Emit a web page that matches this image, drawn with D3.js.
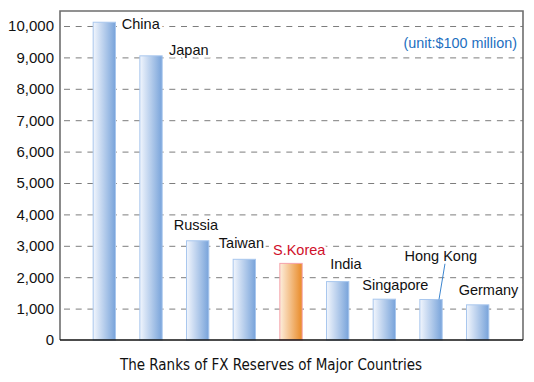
<!DOCTYPE html>
<html>
<head>
<meta charset="utf-8">
<script src="https://cdn.jsdelivr.net/npm/d3@7"></script>
<style>
  body { margin: 0; background: #fff; }
  svg { display: block; }
</style>
</head>
<body>
<div id="chart"></div>
<script>
// FX reserves, unit: $100 million
var countries = ["China", "Japan", "Russia", "Taiwan", "S.Korea", "India", "Singapore", "Hong Kong", "Germany"];
var reserves = [10120, 9050, 3160, 2570, 2440, 1860, 1300, 1290, 1120];
var yTicks = [0, 1000, 2000, 3000, 4000, 5000, 6000, 7000, 8000, 9000, 10000];
var highlight = "S.Korea";

// label placement relative to the bar's top-centre (dx to text start, dy to baseline)
var labelOffsets = [[17.5, 7], [18, -1], [-24, -11], [-25.5, -11], [-18, -8], [-7.5, -12.5], [-22, -9], [-26.5, -38], [-19, -9.5]];

var width = 534, height = 382;
var plot = { left: 60, right: 523, top: 11, bottom: 340 };
var sans = "'Liberation Sans', Arial, sans-serif";

var svg = d3.select("#chart").append("svg")
    .attr("width", width)
    .attr("height", height);

var defs = svg.append("defs");
function gradient(id, c0, c1) {
    var g = defs.append("linearGradient").attr("id", id)
        .attr("x1", "0%").attr("x2", "100%").attr("y1", "0%").attr("y2", "0%");
    g.append("stop").attr("offset", "0%").attr("stop-color", c0);
    g.append("stop").attr("offset", "100%").attr("stop-color", c1);
}
gradient("blueGrad", "#f2f6fd", "#78a3da");
gradient("orangeGrad", "#fdeedd", "#e98a26");

var x = d3.scaleBand()
    .domain(countries)
    .range([81, 501])
    .paddingInner(0.5)
    .paddingOuter(0.25);

var y = d3.scaleLinear()
    .domain([0, 10000])
    .range([plot.bottom, 26]);

// gridlines
svg.append("g")
    .attr("transform", "translate(" + plot.left + ",0)")
    .call(d3.axisLeft(y).tickValues(yTicks.slice(1)).tickSize(-(plot.right - plot.left - 4)).tickFormat(""))
    .call(function (g) {
        g.select(".domain").remove();
        g.selectAll("line")
            .attr("transform", "translate(4,0)")
            .attr("stroke", "#7d7d7d")
            .attr("stroke-dasharray", "6,5.7");
    });

// frame
svg.append("path")
    .attr("d", "M" + plot.left + "," + plot.bottom + "V" + plot.top + "H" + plot.right + "V" + plot.bottom)
    .attr("fill", "none")
    .attr("stroke", "#6e6e6e")
    .attr("stroke-width", 1.6);

// bars
svg.append("g")
    .selectAll("rect")
    .data(countries)
    .enter().append("rect")
    .attr("x", function (d) { return x(d) + 0.5; })
    .attr("y", function (d, i) { return y(reserves[i]); })
    .attr("width", x.bandwidth() - 1)
    .attr("height", function (d, i) { return y(0) - y(reserves[i]); })
    .attr("fill", function (d) { return d === highlight ? "url(#orangeGrad)" : "url(#blueGrad)"; })
    .attr("stroke", function (d) { return d === highlight ? "#f5a3ab" : "#a9c7ee"; })
    .attr("stroke-width", 1);

// bottom axis line
svg.append("line")
    .attr("x1", plot.left).attr("x2", plot.right)
    .attr("y1", plot.bottom).attr("y2", plot.bottom)
    .attr("stroke", "#111")
    .attr("stroke-width", 1.5);

// y axis labels
svg.append("g")
    .attr("transform", "translate(" + plot.left + ",0)")
    .call(d3.axisLeft(y).tickValues(yTicks).tickSize(0).tickPadding(6).tickFormat(d3.format(",")))
    .call(function (g) {
        g.select(".domain").remove();
        g.selectAll("text")
            .attr("font-family", sans)
            .attr("font-size", 15)
            .attr("fill", "#111");
    });

// Hong Kong leader line
var hk = countries.indexOf("Hong Kong");
svg.append("line")
    .attr("x1", x(countries[hk]) + x.bandwidth() / 2 + 14)
    .attr("y1", y(reserves[hk]) - 36)
    .attr("x2", x(countries[hk]) + x.bandwidth() / 2 + 8)
    .attr("y2", y(reserves[hk]))
    .attr("stroke", "#3d86cf")
    .attr("stroke-width", 1);

// country labels
svg.append("g")
    .selectAll("text")
    .data(countries)
    .enter().append("text")
    .attr("x", function (d, i) { return x(d) + x.bandwidth() / 2 + labelOffsets[i][0]; })
    .attr("y", function (d, i) { return y(reserves[i]) + labelOffsets[i][1]; })
    .attr("font-family", sans)
    .attr("font-size", 14.5)
    .attr("fill", function (d) { return d === highlight ? "#d0112b" : "#111"; })
    .attr("stroke", "#fff")
    .attr("stroke-width", 5)
    .attr("paint-order", "stroke")
    .text(function (d) { return d; });

// unit note
svg.append("text")
    .attr("x", 517)
    .attr("y", 47.5)
    .attr("text-anchor", "end")
    .attr("font-family", sans)
    .attr("font-size", 14.4)
    .attr("fill", "#1d6fbf")
    .text("(unit:$100 million)");

// title
svg.append("text")
    .attr("x", 271)
    .attr("y", 370)
    .attr("text-anchor", "middle")
    .attr("font-family", "'Liberation Sans Narrow', 'DejaVu Sans Condensed', sans-serif")
    .attr("font-size", 15)
    .attr("fill", "#111")
    .text("The Ranks of FX Reserves of Major Countries");
</script>
</body>
</html>
